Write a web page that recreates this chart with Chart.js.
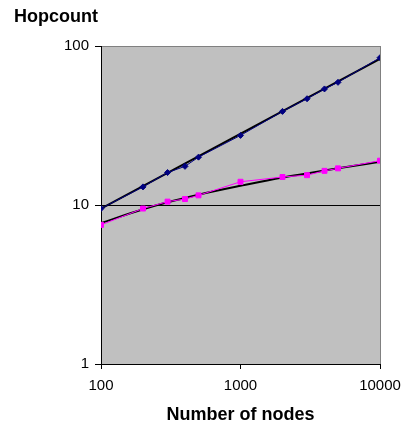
<!DOCTYPE html>
<html>
<head>
<meta charset="utf-8">
<script src="https://cdn.jsdelivr.net/npm/chart.js@4"></script>
<style>
  html, body { margin: 0; padding: 0; background: #fff; }
  #wrap { width: 406px; height: 428px; }
</style>
</head>
<body>
<div id="wrap"><canvas id="hopChart" width="406" height="428"></canvas></div>
<script>
// values
const nodes = [100, 200, 300, 400, 500, 1000, 2000, 3000, 4000, 5000, 10000];
const blueHops = [9.5, 13.0, 16.0, 17.5, 20.0, 27.4, 38.8, 46.6, 53.7, 59.1, 84.4];
const pinkHops = [7.5, 9.5, 10.5, 10.9, 11.5, 14.0, 15.0, 15.4, 16.4, 17.0, 19.0];

// trendlines (black)
const powerTrendX = [100, 10000];
const powerTrend = [9.5, 83];
const logTrendX = [100, 200, 300, 500, 1000, 2000, 3000, 5000, 10000];
const logTrend = [7.7, 9.4, 10.4, 11.6, 13.2, 14.9, 15.8, 17.0, 18.7];

const xTicks = [100, 1000, 10000];
const yTicks = [1, 10, 100];

const pts = (xs, ys) => xs.map((x, i) => ({ x: x, y: ys[i] }));

const plotBg = {
    id: 'plotBg',
    beforeDraw(chart) {
        const a = chart.chartArea;
        const c = chart.ctx;
        c.save();
        c.fillStyle = '#C0C0C0';
        c.fillRect(a.left, a.top, a.right - a.left, a.bottom - a.top);
        c.restore();
    }
};

Chart.defaults.font.family = '"Liberation Sans", Arial, sans-serif';
Chart.defaults.color = '#000';

const ctx = document.getElementById('hopChart').getContext('2d');
const hopChart = new Chart(ctx, {
    type: 'scatter',
    data: {
        datasets: [
            {
                label: 'Series 1',
                data: pts(nodes, blueHops),
                showLine: true,
                borderColor: '#000080',
                backgroundColor: '#000080',
                borderWidth: 1,
                pointStyle: 'rectRot',
                pointRadius: 3,
                order: 0
            },
            {
                label: 'Series 2',
                data: pts(nodes, pinkHops),
                showLine: true,
                borderColor: '#FF00FF',
                backgroundColor: '#FF00FF',
                borderWidth: 1,
                pointStyle: 'rect',
                pointRadius: 3.5,
                order: 0
            },
            {
                label: 'Power trend',
                data: pts(powerTrendX, powerTrend),
                showLine: true,
                borderColor: '#000',
                borderWidth: 2,
                pointRadius: 0,
                order: 1
            },
            {
                label: 'Log trend',
                data: pts(logTrendX, logTrend),
                showLine: true,
                borderColor: '#000',
                borderWidth: 2,
                pointRadius: 0,
                cubicInterpolationMode: 'monotone',
                order: 1
            }
        ]
    },
    options: {
        responsive: false,
        animation: false,
        layout: { padding: { left: 14, right: 26, top: 0, bottom: 0 } },
        plugins: {
            legend: { display: false },
            tooltip: { enabled: false },
            title: {
                display: true,
                text: 'Hopcount',
                align: 'start',
                font: { size: 18, weight: 'bold' },
                padding: { top: 6.2, bottom: 18.2 }
            }
        },
        scales: {
            x: {
                type: 'logarithmic',
                min: 100,
                max: 10000,
                afterBuildTicks: s => { s.ticks = xTicks.map(v => ({ value: v })); },
                afterFit: s => {
                    s.height = 64;
                    s.paddingLeft = 0;
                    s.paddingRight = 0;
                },
                ticks: {
                    font: { size: 15 },
                    maxRotation: 0,
                    padding: 8,
                    callback: v => String(v)
                },
                grid: {
                    color: c => (c.tick && c.tick.value === 10000) ? '#808080' : 'rgba(0,0,0,0)',
                    tickColor: '#000',
                    tickLength: 5,
                    lineWidth: 1
                },
                border: { color: '#000', width: 1 },
                title: {
                    display: true,
                    text: 'Number of nodes',
                    font: { size: 18, weight: 'bold' },
                    padding: { top: 0, bottom: 2 }
                }
            },
            y: {
                type: 'logarithmic',
                min: 1,
                max: 100,
                afterBuildTicks: s => { s.ticks = yTicks.map(v => ({ value: v })); },
                afterFit: s => { s.width = 87; },
                ticks: {
                    font: { size: 15 },
                    padding: 6,
                    callback: v => String(v)
                },
                grid: {
                    color: c => (c.tick && c.tick.value === 100) ? '#808080' : '#000',
                    tickColor: '#000',
                    tickLength: 6,
                    lineWidth: 1
                },
                border: { color: '#000', width: 1 }
            }
        }
    },
    plugins: [plotBg]
});
</script>
</body>
</html>
